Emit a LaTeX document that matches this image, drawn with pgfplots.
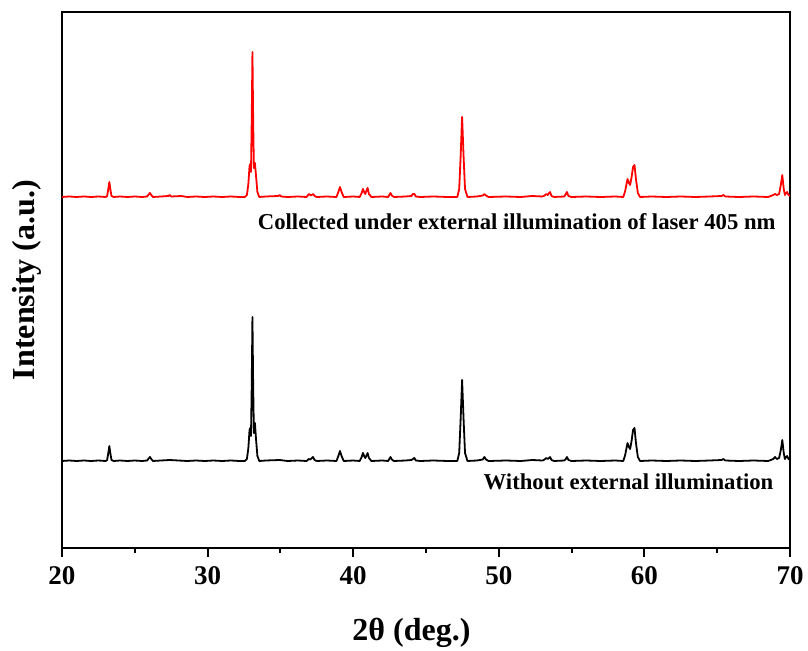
\documentclass[border=0pt]{standalone}
\usepackage{fontspec}
\setmainfont{Liberation Serif}
\usepackage{pgfplots}
\pgfplotsset{compat=1.18}
\usepackage{pgfplotstable}

% XRD pattern without illumination (2theta, intensity above baseline)
\pgfplotstableread{
x I
20.0 0
20.5 0.5
21.0 0
21.5 0.5
22.0 0
22.5 0.5
23.0 0
23.1 1
23.17 7
23.25 15
23.33 7
23.4 1
23.55 0
24.0 0.5
24.5 0
25.0 0.5
25.5 0
25.85 0.5
25.95 2.5
26.04 4
26.13 2
26.25 0
26.8 0.5
27.4 1
28.0 0.5
28.6 0
29.2 0.5
29.8 0
30.4 0.5
31.0 0
31.6 0.5
32.2 0
32.55 0
32.7 2
32.8 13
32.88 31
32.93 33
32.98 25
33.03 75
33.08 144
33.13 75
33.18 28
33.25 38
33.32 23
33.42 5
33.55 0
34.0 0.5
34.95 1
35.5 0
36.2 0.5
36.8 0
36.95 2
37.05 1.5
37.24 4
37.35 1
37.5 0
38.2 0.5
38.85 0
38.98 5
39.09 10
39.2 5
39.35 0
40.0 0.5
40.45 0
40.58 4
40.67 8
40.78 4
40.83 3
40.9 5
40.99 8
41.08 3
41.25 0
42.0 0.5
42.4 0
42.5 2.5
42.56 4
42.65 1.5
42.8 0
43.6 0.5
44.0 1
44.1 2
44.2 3
44.3 0.5
44.6 0
45.5 0.5
46.5 0
47.15 0
47.28 8
47.38 42
47.48 81
47.58 42
47.68 8
47.85 0
48.5 0.5
48.9 1.5
49.01 4
49.12 1.5
49.3 0
50.5 0.5
51.5 0
52.3 1
53.0 0.5
53.15 1.5
53.26 3
53.36 2
53.45 3
53.52 4
53.62 1
53.8 0
54.5 0.5
54.6 2
54.68 4
54.78 1
55.0 0
56.0 0.5
57.0 0
58.0 0.5
58.55 0
58.68 6
58.84 18
58.94 14
59.02 12
59.12 20
59.22 31
59.32 33
59.42 18
59.55 4
59.7 0
60.5 0.5
61.5 0
62.5 0.5
63.5 0
64.5 0.5
65.3 1
65.42 2
65.55 0.5
66.5 0
67.5 0.5
68.5 0
68.85 2
68.97 4
69.1 2
69.25 3
69.37 11
69.47 21
69.57 8
69.65 2
69.73 4
69.8 5
69.9 2
70.0 1
}\dark

% XRD pattern under 405 nm laser
\pgfplotstableread{
x I
20.0 0
20.5 0.5
21.0 0
21.5 0.5
22.0 0
22.5 0.5
23.0 0
23.1 1
23.17 7
23.25 15
23.33 7
23.4 1
23.55 0
24.0 0.5
24.5 0
25.0 0.5
25.5 0
25.85 0.5
25.95 2.5
26.04 4
26.13 2
26.25 0
26.8 0.5
27.3 1
27.4 2
27.5 0.5
28.2 1
28.6 0
29.2 0.5
29.8 0
30.4 0.5
31.0 0
31.6 0.5
32.2 0
32.55 0
32.7 2
32.8 13
32.88 31
32.93 33
32.98 25
33.03 76
33.08 145
33.13 76
33.18 29
33.25 34
33.32 22
33.42 5
33.55 0
34.0 0.5
34.85 1
34.95 2
35.05 0.5
35.5 0
36.2 0.5
36.8 0
36.96 3
37.1 1.5
37.24 3
37.35 1
37.5 0
38.2 0.5
38.85 0
38.98 5
39.09 10
39.2 5
39.35 0
40.0 0.5
40.45 0
40.58 4
40.67 8
40.78 4
40.83 3
40.9 6
40.99 9
41.08 3
41.25 0
42.0 0.5
42.4 0
42.5 2.5
42.56 4
42.65 1.5
42.8 0
43.6 0.5
44.0 1
44.1 3
44.2 3
44.3 0.5
44.6 0
45.5 0.5
46.5 0
47.15 0
47.28 8
47.38 41
47.48 80
47.58 41
47.68 8
47.85 0
48.5 0.5
48.9 1.5
49.01 3
49.12 1.5
49.3 0
50.5 0.5
51.5 0
52.3 1
53.0 0.5
53.15 1.5
53.26 3
53.36 2
53.45 4
53.52 5
53.62 1
53.8 0
54.5 0.5
54.6 3
54.68 5
54.78 1
55.0 0
56.0 0.5
57.0 0
58.0 0.5
58.55 0
58.68 6
58.84 18
58.94 14
59.02 12
59.12 20
59.22 30
59.32 32
59.42 18
59.55 4
59.7 0
60.5 0.5
61.5 0
62.5 0.5
63.5 0
64.5 0.5
65.3 1
65.42 2
65.55 0.5
66.5 0
67.5 0.5
68.5 0
68.85 2
68.97 3
69.1 2
69.25 3
69.37 12
69.47 22
69.57 8
69.65 2
69.73 4
69.8 5
69.9 2
70.0 1
}\laser

\begin{document}
\begin{tikzpicture}
  \begin{axis}[
    scale only axis,
    width=728pt, height=536pt,
    xmin=20, xmax=70,
    ymin=0, ymax=536,
    xtick={20,30,...,70},
    minor x tick num=1,
    ytick=\empty,
    xtick pos=bottom,
    tick align=outside,
    major tick length=9pt,
    minor tick length=5pt,
    axis line style={line width=2.4pt},
    every tick/.style={line width=2pt, black},
    /pgf/number format/assume math mode=true,
    xticklabel style={font=\bfseries\fontsize{27}{27}\selectfont, yshift=-6pt},
    xlabel={2θ (deg.)},
    ylabel={Intensity (a.u.)},
    label style={font=\bfseries\fontsize{32}{32}\selectfont},
    xlabel style={at={(axis description cs:0.48,-0.158)}, anchor=center},
    ylabel style={at={(axis description cs:-0.048,0.5)}, anchor=center},
  ]
  % black: baseline at 87, red: baseline at 351
  \addplot[black, line width=1.8pt, line join=round] table[x=x, y expr=\thisrow{I}+87] {\dark};
  \addplot[red, line width=1.8pt, line join=round] table[x=x, y expr=\thisrow{I}+351] {\laser};

  \node[anchor=east, font=\bfseries\fontsize{22.7}{22.7}\selectfont]
    at (axis cs:69.25,326) {Collected under external illumination of laser 405 nm};
  \node[anchor=east, font=\bfseries\fontsize{22.7}{22.7}\selectfont]
    at (axis cs:69.1,66) {Without external illumination};
  \end{axis}
  \path ([xshift=-62pt,yshift=-102pt]current axis.south west)
    rectangle ([xshift=18pt,yshift=12pt]current axis.north east);
\end{tikzpicture}
\end{document}
